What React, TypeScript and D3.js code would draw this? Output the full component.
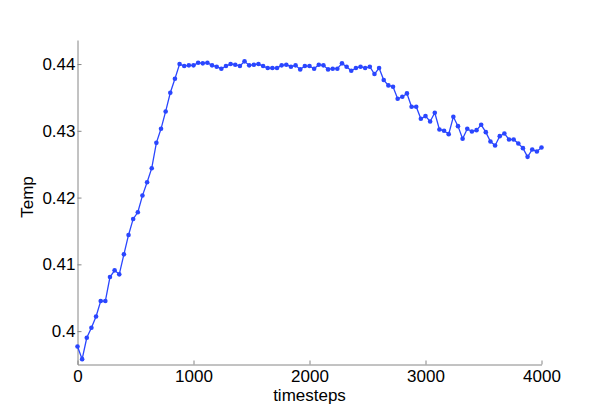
import React, { useRef, useEffect } from "react";
import { select, scaleLinear, axisBottom, axisLeft, line } from "d3";

// timesteps (x) and Temp (y)
const timesteps = [
  0, 40, 80, 120, 160, 200, 240, 280, 320, 360,
  400, 440, 480, 520, 560, 600, 640, 680, 720, 760,
  800, 840, 880, 920, 960, 1000, 1040, 1080, 1120, 1160,
  1200, 1240, 1280, 1320, 1360, 1400, 1440, 1480, 1520, 1560,
  1600, 1640, 1680, 1720, 1760, 1800, 1840, 1880, 1920, 1960,
  2000, 2040, 2080, 2120, 2160, 2200, 2240, 2280, 2320, 2360,
  2400, 2440, 2480, 2520, 2560, 2600, 2640, 2680, 2720, 2760,
  2800, 2840, 2880, 2920, 2960, 3000, 3040, 3080, 3120, 3160,
  3200, 3240, 3280, 3320, 3360, 3400, 3440, 3480, 3520, 3560,
  3600, 3640, 3680, 3720, 3760, 3800, 3840, 3880, 3920, 3960,
  4000,
];

const temp = [
  0.3977, 0.3958, 0.399, 0.4005, 0.4022, 0.4045, 0.4045, 0.4081, 0.4091, 0.4085,
  0.4115, 0.4144, 0.4168, 0.4178, 0.4203, 0.4223, 0.4244, 0.4282, 0.4303, 0.4329,
  0.4357, 0.4378, 0.44, 0.4397, 0.4398, 0.4398, 0.4402, 0.4401, 0.4402, 0.4398,
  0.4396, 0.4393, 0.4397, 0.44, 0.4399, 0.4397, 0.4404, 0.4398, 0.4399, 0.44,
  0.4397, 0.4394, 0.4394, 0.4394, 0.4398, 0.4399, 0.4396, 0.4398, 0.4392, 0.4397,
  0.4397, 0.4393, 0.4399, 0.4398, 0.4392, 0.4393, 0.4393, 0.4401, 0.4396, 0.439,
  0.4394, 0.4396, 0.4394, 0.4396, 0.4385, 0.4394, 0.4376, 0.4368, 0.4366, 0.4348,
  0.4351, 0.4356, 0.4336, 0.4336, 0.4318, 0.4322, 0.4314, 0.4327, 0.4302, 0.43,
  0.4295, 0.4321, 0.4307, 0.4288, 0.4303, 0.4299, 0.4301, 0.4309, 0.4298, 0.4284,
  0.4278, 0.4292, 0.4296, 0.4287, 0.4287, 0.4281, 0.4274, 0.4261, 0.4272, 0.4269,
  0.4275,
];

const xTicks = [0, 1000, 2000, 3000, 4000];
const yTicks = [0.4, 0.41, 0.42, 0.43, 0.44];
const yTickLabels = ["0.4", "0.41", "0.42", "0.43", "0.44"];

const W = 598;
const H = 411;
const FONT = "'Liberation Sans', Arial, Helvetica, sans-serif";
const BLUE = "#2a46ff";
const AXIS = "#868686";

export default function App() {
  const svgRef = useRef<SVGSVGElement>(null);

  useEffect(() => {
    const svg = select(svgRef.current);
    svg.selectAll("*").remove();

    // plot area
    const left = 77.5;
    const right = 541.5;
    const top = 40;
    const bottom = 364.5;

    const x = scaleLinear().domain([0, 4000]).range([left, right]);
    const y = scaleLinear().domain([0.395, 0.4436]).range([bottom, top]);

    // x axis
    const gx = svg
      .append("g")
      .attr("transform", `translate(0,${bottom})`)
      .call(
        axisBottom(x)
          .tickValues(xTicks)
          .tickSizeInner(-4)
          .tickSizeOuter(0)
          .tickPadding(5)
          .tickFormat((d) => String(d))
      );

    // y axis
    const gy = svg
      .append("g")
      .attr("transform", `translate(${left},0)`)
      .call(
        axisLeft(y)
          .tickValues(yTicks)
          .tickSizeInner(-4)
          .tickSizeOuter(0)
          .tickPadding(2)
          .tickFormat((d, i) => yTickLabels[i])
      );

    [gx, gy].forEach((g) => {
      g.select(".domain").attr("stroke", AXIS);
      g.selectAll(".tick line").attr("stroke", AXIS);
      g.selectAll(".tick text")
        .attr("fill", "#000")
        .style("font-family", FONT)
        .style("font-size", "17px");
    });

    // line
    const pts = timesteps.map((t, i) => ({ t, v: temp[i] }));
    const path = line<{ t: number; v: number }>()
      .x((d) => x(d.t))
      .y((d) => y(d.v));

    svg
      .append("path")
      .datum(pts)
      .attr("d", path)
      .attr("fill", "none")
      .attr("stroke", BLUE)
      .attr("stroke-width", 1.3);

    svg
      .append("g")
      .selectAll("circle")
      .data(pts)
      .join("circle")
      .attr("cx", (d) => x(d.t))
      .attr("cy", (d) => y(d.v))
      .attr("r", 2.3)
      .attr("fill", BLUE);

    // axis titles
    svg
      .append("text")
      .attr("x", (left + right) / 2)
      .attr("y", 401)
      .attr("text-anchor", "middle")
      .style("font-family", FONT)
      .style("font-size", "17px")
      .text("timesteps");

    svg
      .append("text")
      .attr("transform", `translate(33,197) rotate(-90)`)
      .attr("text-anchor", "middle")
      .style("font-family", FONT)
      .style("font-size", "17px")
      .text("Temp");
  }, []);

  return (
    <svg
      ref={svgRef}
      width={W}
      height={H}
      style={{ position: "absolute", left: 0, top: 0, background: "#fff" }}
    />
  );
}
